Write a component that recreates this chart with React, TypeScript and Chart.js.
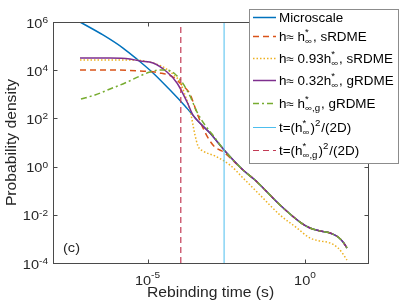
import React, { useEffect, useRef } from "react";
import { Chart, registerables } from "chart.js";
Chart.register(...registerables);

// ---- data ----
const tailX = [0.0108, 0.0259, 0.161, 0.693, 1.44, 2.99, 6.22, 11.2, 16.1, 21.5];
const tailY = [0.72, 0.278, 0.0255, 5.0e-3, 2.83e-3, 2.13e-3, 1.76e-3, 1.2e-3, 7.4e-4, 4.2e-4];

const microX = [7.2e-8, 3.86e-7, 1.67e-6, 4.99e-6, 1.5e-5, 5.2e-5, 1.55e-4, 4.6e-4, 9.6e-4, 2.7e-3];
const microY = [1e6, 2.9e5, 8.3e4, 2.65e4, 7.7e3, 1.5e3, 327, 64, 24.8, 4.9];

const sRdmeX = [7.2e-8, 6.5e-7, 5.78e-6, 2.5e-5, 6.46e-5, 1.24e-4, 2.23e-4, 3.72e-4, 5.78e-4, 9.6e-4, 1.5e-3, 2.32e-3];
const sRdmeY = [1.02e4, 1.02e4, 9.3e3, 7.7e3, 5.2e3, 2.43e3, 1.03e3, 167, 40, 11.5, 5.9, 4.44];

const s093X = [7.2e-8, 3.47e-6, 1.5e-5, 3.6e-5, 7.46e-5, 1.08e-4, 1.55e-4, 2.23e-4, 3.22e-4, 4.0e-4, 5.78e-4, 1.39e-3, 4.16e-3, 0.0108, 0.0372, 0.161, 0.557, 1.44, 2.99, 6.22, 11.2, 16.1, 21.5];
const s093Y = [2.65e4, 2.65e4, 1.99e4, 1.23e4, 5.74e3, 3.24e3, 935, 223, 20.5, 7.16, 4.44, 2.75, 1.16, 0.336, 0.0664, 9.8e-3, 2.83e-3, 1.09e-3, 8.2e-4, 6.76e-4, 4.2e-4, 2.36e-4, 1.33e-4];

const g032X = [7.2e-8, 6.46e-7, 2.78e-6, 5.78e-6, 1.5e-5, 4.16e-5, 8.65e-5, 1.8e-4, 2.78e-4, 4.6e-4, 9.6e-4, 2.7e-3];
const g032Y = [3.2e4, 3.2e4, 2.92e4, 2.41e4, 1.99e4, 8.4e3, 2.94e3, 479, 138, 64, 24.8, 4.9];

const gGX = [7.74e-8, 2.15e-7, 6.46e-7, 1.93e-6, 5.78e-6, 1.2e-5, 2.5e-5, 4.16e-5, 7.46e-5, 1.24e-4, 2.23e-4, 3.72e-4, 6.68e-4, 1.12e-3, 2.7e-3];
const gGY = [638, 935, 1660, 2940, 5740, 8410, 1.02e4, 1.02e4, 6950, 3240, 849, 185, 53, 22.5, 4.9];

const tHinf = 2.7e-3;
const tHinfG = 1.14e-4;
const yRange = [1e-4, 1e6];

const xTicks = [1e-5, 1e0];
const yTicks = [1e-4, 1e-2, 1e0, 1e2, 1e4, 1e6];

type Seg = { t?: string; sup?: string; sub?: string };
const legendLabels: Seg[][] = [
  [{ t: "Microscale" }],
  [{ t: "h\u2248 h" }, { sup: "*", sub: "\u221E" }, { t: ", sRDME" }],
  [{ t: "h\u2248 0.93h" }, { sup: "*", sub: "\u221E" }, { t: ", sRDME" }],
  [{ t: "h\u2248 0.32h" }, { sup: "*", sub: "\u221E" }, { t: ", gRDME" }],
  [{ t: "h\u2248 h" }, { sup: "*", sub: "\u221E,g" }, { t: ", gRDME" }],
  [{ t: "t=(h" }, { sup: "*", sub: "\u221E" }, { t: ")" }, { sup: "2" }, { t: "/(2D)" }],
  [{ t: "t=(h" }, { sup: "*", sub: "\u221E,g" }, { t: ")" }, { sup: "2" }, { t: "/(2D)" }],
];

const pts = (xs: number[], ys: number[]) => xs.map((x, i) => ({ x, y: ys[i] }));

const FONT = "'Liberation Sans', Arial, Helvetica, sans-serif";
const SX = 1.12;

function tw(ctx: CanvasRenderingContext2D, text: string, size: number) {
  ctx.font = `${size}px ${FONT}`;
  return ctx.measureText(text).width * SX;
}
function dt(ctx: CanvasRenderingContext2D, text: string, x: number, y: number, size: number, align = "left") {
  const w = tw(ctx, text, size);
  let x0 = x;
  if (align === "right") x0 = x - w;
  else if (align === "center") x0 = x - w / 2;
  ctx.save();
  ctx.translate(x0, y);
  ctx.scale(SX, 1);
  ctx.textAlign = "left";
  ctx.textBaseline = "alphabetic";
  ctx.fillText(text, 0, 0);
  ctx.restore();
  return w;
}
function drawRich(ctx: CanvasRenderingContext2D, segs: Seg[], x: number, y: number, size: number) {
  let cx = x;
  const ss = size * 0.72;
  for (const s of segs) {
    if (s.t) cx += dt(ctx, s.t, cx, y, size);
    else {
      let w = 0;
      if (s.sup) w = Math.max(w, dt(ctx, s.sup, cx, y - size * 0.42, ss));
      if (s.sub) w = Math.max(w, dt(ctx, s.sub, cx, y + size * 0.32, ss));
      cx += w + 1;
    }
  }
}

const decor = {
  id: "decor",
  afterDraw(chart: any) {
    const ctx: CanvasRenderingContext2D = chart.ctx;
    const a = chart.chartArea;
    const xs = chart.scales.x;
    const ys = chart.scales.y;
    const L = Math.round(a.left) + 0.5, R = Math.round(a.right) + 0.5;
    const T = Math.round(a.top) + 0.5, B = Math.round(a.bottom) + 0.5;
    ctx.save();
    ctx.strokeStyle = "#4a4a4a";
    ctx.lineWidth = 1;
    ctx.setLineDash([]);
    ctx.strokeRect(L, T, R - L, B - T);
    ctx.beginPath();
    for (const v of xTicks) {
      const px = Math.round(xs.getPixelForValue(v)) + 0.5;
      ctx.moveTo(px, B); ctx.lineTo(px, B - 4);
      ctx.moveTo(px, T); ctx.lineTo(px, T + 4);
    }
    for (const v of yTicks) {
      const py = Math.round(ys.getPixelForValue(v)) + 0.5;
      ctx.moveTo(L, py); ctx.lineTo(L + 4, py);
      ctx.moveTo(R, py); ctx.lineTo(R - 4, py);
    }
    ctx.stroke();

    ctx.fillStyle = "#262626";
    // y tick labels
    for (const v of yTicks) {
      const py = ys.getPixelForValue(v);
      const e = String(Math.round(Math.log10(v)));
      const we = tw(ctx, e, 9);
      const wb = tw(ctx, "10", 13);
      const right = 48;
      dt(ctx, e, right - we, py + 1, 9);
      dt(ctx, "10", right - we - wb, py + 5.5, 13);
    }
    // x tick labels
    for (const v of xTicks) {
      const px = xs.getPixelForValue(v);
      const e = String(Math.round(Math.log10(v)));
      const we = tw(ctx, e, 9);
      const wb = tw(ctx, "10", 13);
      const x0 = px - (we + wb) / 2;
      dt(ctx, "10", x0, 285, 13);
      dt(ctx, e, x0 + wb, 278, 9);
    }
    // axis titles
    dt(ctx, "Rebinding time (s)", (a.left + a.right) / 2, 297, 14, "center");
    ctx.save();
    ctx.translate(15.5, (a.top + a.bottom) / 2);
    ctx.rotate(-Math.PI / 2);
    dt(ctx, "Probability density", 0, 0, 14, "center");
    ctx.restore();
    // panel label
    dt(ctx, "(c)", 63, 252, 13);

    // legend
    const lx0 = 249.5, ly0 = 9.5, lx1 = 398.5, ly1 = 163.5;
    ctx.fillStyle = "#ffffff";
    ctx.fillRect(lx0, ly0, lx1 - lx0, ly1 - ly0);
    ctx.strokeStyle = "#8c8c8c";
    ctx.lineWidth = 1;
    ctx.strokeRect(lx0, ly0, lx1 - lx0, ly1 - ly0);
    const rowY = [17, 36, 58, 80, 103, 127, 150];
    const order = [0, 1, 2, 3, 4, 5, 6];
    order.forEach((di, i) => {
      const ds = chart.data.datasets[di];
      const y = rowY[i];
      ctx.save();
      ctx.beginPath();
      ctx.strokeStyle = ds.borderColor;
      ctx.lineWidth = ds.borderWidth;
      ctx.setLineDash(ds.borderDash || []);
      ctx.moveTo(253, y + 0.5);
      ctx.lineTo(276, y + 0.5);
      ctx.stroke();
      ctx.restore();
      ctx.fillStyle = "#000000";
      drawRich(ctx, legendLabels[i], 279, y + 4.5, 12);
    });
    ctx.restore();
  },
};

export default function App() {
  const ref = useRef<HTMLCanvasElement | null>(null);
  useEffect(() => {
    if (!ref.current) return;
    const common = { pointRadius: 0, fill: false, cubicInterpolationMode: "monotone" as const };
    const chart = new Chart(ref.current, {
      type: "line",
      data: {
        datasets: [
          { label: "Microscale", data: pts(microX.concat(tailX), microY.concat(tailY)), borderColor: "#0072BD", borderWidth: 1.5, order: 7, ...common },
          { label: "sRDME", data: pts(sRdmeX.concat(tailX), sRdmeY.concat(tailY)), borderColor: "#D95319", borderWidth: 1.5, borderDash: [6, 4], order: 6, ...common },
          { label: "0.93 sRDME", data: pts(s093X, s093Y), borderColor: "#EDB120", borderWidth: 1.5, borderDash: [1.5, 2], order: 5, ...common },
          { label: "0.32 gRDME", data: pts(g032X.concat(tailX), g032Y.concat(tailY)), borderColor: "#7E2F8E", borderWidth: 1.5, order: 4, ...common },
          { label: "gRDME", data: pts(gGX.concat(tailX), gGY.concat(tailY)), borderColor: "#77AC30", borderWidth: 1.5, borderDash: [6, 3, 2, 3], order: 3, ...common },
          { label: "t1", data: pts([tHinf, tHinf], yRange), borderColor: "#4DBEEE", borderWidth: 1, order: 2, pointRadius: 0 },
          { label: "t2", data: pts([tHinfG, tHinfG], yRange), borderColor: "#C23B55", borderWidth: 1.2, borderDash: [6, 4], order: 1, pointRadius: 0 },
        ],
      },
      options: {
        animation: false,
        responsive: false,
        devicePixelRatio: 1,
        layout: { padding: { left: 53, right: 39, top: 22, bottom: 42 } },
        plugins: { legend: { display: false }, tooltip: { enabled: false } },
        scales: {
          x: { type: "logarithmic", min: 1e-8, max: 1e2, display: false },
          y: { type: "logarithmic", min: 1e-4, max: 1e6, display: false },
        },
      },
      plugins: [decor],
    });
    return () => chart.destroy();
  }, []);
  return (
    <div style={{ position: "fixed", left: 0, top: 0, width: 407, height: 305, background: "#fff" }}>
      <canvas ref={ref} width={407} height={305} />
    </div>
  );
}
